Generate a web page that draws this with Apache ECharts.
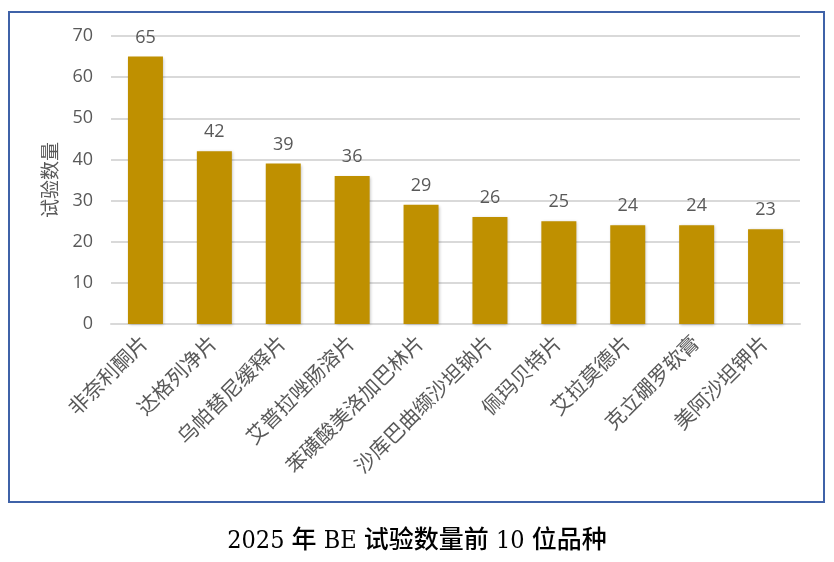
<!DOCTYPE html>
<html>
<head>
<meta charset="utf-8">
<script src="https://cdn.jsdelivr.net/npm/echarts@6/dist/echarts.min.js"></script>
<style>
  html, body { margin: 0; padding: 0; background: #fff; }
  #chart { width: 834px; height: 562px; }
</style>
</head>
<body>
<div id="chart"></div>
<script>
// drug names, in the order shown on the x axis
var categories = [
  '非奈利酮片', '达格列净片', '乌帕替尼缓释片', '艾普拉唑肠溶片', '苯磺酸美洛加巴林片',
  '沙库巴曲缬沙坦钠片', '佩玛贝特片', '艾拉莫德片', '克立硼罗软膏', '美阿沙坦钾片'
];
var trialCounts = [65, 42, 39, 36, 29, 26, 25, 24, 24, 23];
var yTicks = { min: 0, max: 70, interval: 10 };

var dom = document.getElementById('chart');
var myChart = echarts.init(dom);
var gray = '#595959';

var option = {
  animation: false,
  textStyle: {
    fontFamily: '"Open Sans", "Noto Sans CJK SC", sans-serif',
  },
  title: {
    text: '2025 年 BE 试验数量前 10 位品种',
    left: 'center',
    top: 524,
    textStyle: {
      fontFamily: '"DejaVu Serif Condensed", "Liberation Serif", "Noto Sans CJK SC", serif',
      fontSize: 25,
      fontWeight: 500,
      color: '#000',
    },
  },
  // the blue frame round the chart
  graphic: [{
    type: 'rect',
    shape: { x: 9, y: 12, width: 815, height: 490 },
    style: { fill: 'none', stroke: '#3f62a8', lineWidth: 2 },
    silent: true,
  }],
  grid: {
    left: 111,
    right: 34,
    top: 36,
    bottom: 238,
    containLabel: false,
  },
  xAxis: {
    type: 'category',
    data: categories,
    axisLine: { show: true, lineStyle: { color: '#d9d9d9', width: 2 } },
    axisTick: { show: false },
    axisLabel: {
      rotate: 45,
      interval: 0,
      color: gray,
      fontSize: 20.5,
      margin: 16,
    },
  },
  yAxis: {
    type: 'value',
    min: yTicks.min,
    max: yTicks.max,
    interval: yTicks.interval,
    name: '试验数量',
    nameLocation: 'middle',
    nameRotate: 90,
    nameGap: 50,
    nameTextStyle: { color: gray, fontSize: 19 },
    axisLine: { show: false },
    axisTick: { show: false },
    axisLabel: { color: gray, fontSize: 18, margin: 18 },
    splitLine: { lineStyle: { color: '#d9d9d9', width: 2 } },
  },
  series: [{
    type: 'bar',
    data: trialCounts,
    barWidth: 35,
    itemStyle: {
      color: '#bf9000',
      shadowColor: 'rgba(0,0,0,0.25)',
      shadowBlur: 3,
      shadowOffsetX: 1,
      shadowOffsetY: 1,
    },
    label: {
      show: true,
      position: 'top',
      distance: 10,
      color: gray,
      fontSize: 18,
    },
  }],
};

myChart.setOption(option);
</script>
</body>
</html>
